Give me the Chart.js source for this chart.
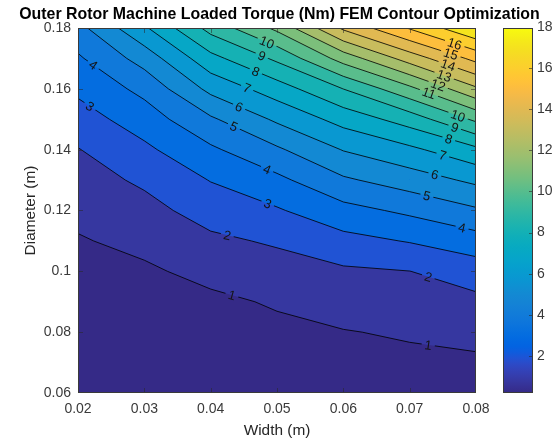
<!DOCTYPE html>
<html><head><meta charset="utf-8">
<script src="https://cdn.jsdelivr.net/npm/chart.js@4.4.0/dist/chart.umd.min.js"></script>
<style>html,body{margin:0;padding:0;background:#fff;}</style>
</head><body>
<canvas id="c" width="559" height="443"></canvas>
<script>
// ---- data ----
const widths = [0.02, 0.03, 0.04, 0.05, 0.06, 0.07, 0.08];
const diameters = [0.06, 0.07, 0.08, 0.09, 0.10, 0.11, 0.12, 0.13, 0.14, 0.15, 0.16, 0.17, 0.18];
// torque (Nm) along diameter, one array per width
const torqueW002 = [0.19, 0.27, 0.38, 0.52, 0.70, 0.92, 1.25, 1.60, 1.96, 2.56, 3.20, 3.86, 4.69];
const torqueW003 = [0.26, 0.36, 0.48, 0.64, 0.85, 1.26, 1.69, 2.16, 2.80, 3.49, 4.28, 5.41, 6.85];
const torqueW004 = [0.33, 0.46, 0.62, 0.80, 1.28, 1.81, 2.40, 3.04, 3.83, 4.85, 6.27, 7.68, 9.35];
const torqueW005 = [0.45, 0.58, 0.78, 1.10, 1.59, 2.12, 2.90, 3.76, 4.85, 6.17, 7.52, 9.20, 11.23];
const torqueW006 = [0.58, 0.76, 0.96, 1.39, 1.85, 2.69, 3.67, 4.85, 6.05, 7.37, 9.01, 11.42, 14.18];
const torqueW007 = [0.60, 0.80, 1.10, 1.55, 1.99, 3.06, 4.20, 5.49, 6.78, 8.45, 10.75, 13.45, 16.09];
const torqueW008 = [0.62, 0.85, 1.27, 1.77, 2.47, 3.57, 4.86, 6.21, 7.77, 10.20, 12.84, 15.30, 17.96];
const contourLevels = [1,2,3,4,5,6,7,8,9,10,11,12,13,14,15,16,17];
const xTickValues = [0.02, 0.03, 0.04, 0.05, 0.06, 0.07, 0.08];
const xTickLabels = ['0.02','0.03','0.04','0.05','0.06','0.07','0.08'];
const yTickValues = [0.06, 0.08, 0.10, 0.12, 0.14, 0.16, 0.18];
const yTickLabels = ['0.06','0.08','0.1','0.12','0.14','0.16','0.18'];
const cbTickValues = [2, 4, 6, 8, 10, 12, 14, 16, 18];
const cbTickLabels = ['2','4','6','8','10','12','14','16','18'];
// inline contour labels: level and width where it sits
const labelLevels = [4, 3, 10, 9, 8, 7, 6, 5, 4, 3, 2, 1, 16, 15, 14, 13, 12, 11, 10, 9, 8, 7, 6, 5, 4, 2, 1];
const labelWidths = [0.0223, 0.0218, 0.0485, 0.0477, 0.0468, 0.0455, 0.0443, 0.0435, 0.0485, 0.0486, 0.0425, 0.0432,
                     0.0768, 0.0762, 0.0758, 0.0752, 0.0743, 0.0729, 0.0773, 0.0768, 0.0759, 0.0750, 0.0738, 0.0726, 0.0779, 0.0728, 0.0728];

const torque = [torqueW002, torqueW003, torqueW004, torqueW005, torqueW006, torqueW007, torqueW008];

// parula colormap (64)
const parula = [
[0.2081,0.1663,0.5292],[0.2116,0.1898,0.5777],[0.2123,0.2138,0.6270],[0.2081,0.2386,0.6771],[0.1959,0.2645,0.7279],[0.1707,0.2919,0.7792],[0.1253,0.3242,0.8303],[0.0591,0.3598,0.8683],
[0.0117,0.3875,0.8820],[0.0060,0.4086,0.8828],[0.0165,0.4266,0.8786],[0.0329,0.4430,0.8720],[0.0498,0.4586,0.8641],[0.0629,0.4737,0.8554],[0.0723,0.4887,0.8467],[0.0779,0.5040,0.8384],
[0.0793,0.5200,0.8312],[0.0749,0.5375,0.8263],[0.0641,0.5570,0.8240],[0.0488,0.5772,0.8228],[0.0343,0.5966,0.8199],[0.0265,0.6137,0.8135],[0.0239,0.6287,0.8038],[0.0231,0.6418,0.7913],
[0.0228,0.6535,0.7768],[0.0267,0.6642,0.7607],[0.0384,0.6743,0.7436],[0.0590,0.6838,0.7254],[0.0843,0.6928,0.7062],[0.1133,0.7015,0.6859],[0.1453,0.7098,0.6646],[0.1801,0.7177,0.6424],
[0.2178,0.7250,0.6193],[0.2586,0.7317,0.5954],[0.3022,0.7376,0.5712],[0.3482,0.7424,0.5473],[0.3953,0.7459,0.5244],[0.4420,0.7481,0.5033],[0.4871,0.7491,0.4840],[0.5300,0.7491,0.4661],
[0.5709,0.7485,0.4494],[0.6099,0.7473,0.4337],[0.6473,0.7456,0.4188],[0.6834,0.7435,0.4044],[0.7184,0.7411,0.3905],[0.7525,0.7384,0.3768],[0.7858,0.7356,0.3633],[0.8185,0.7327,0.3498],
[0.8507,0.7299,0.3360],[0.8824,0.7274,0.3217],[0.9139,0.7258,0.3063],[0.9450,0.7261,0.2886],[0.9739,0.7314,0.2666],[0.9938,0.7455,0.2403],[0.9990,0.7653,0.2164],[0.9955,0.7861,0.1967],
[0.9880,0.8066,0.1794],[0.9789,0.8271,0.1633],[0.9697,0.8481,0.1475],[0.9626,0.8705,0.1309],[0.9589,0.8949,0.1132],[0.9598,0.9218,0.0948],[0.9661,0.9514,0.0755],[0.9763,0.9831,0.0538]];

const allZ = torque.flat();
const zMin = Math.min(...allZ), zMax = Math.max(...allZ);
function rgbOf(c){ return 'rgb(' + Math.round(c[0]*255) + ',' + Math.round(c[1]*255) + ',' + Math.round(c[2]*255) + ')'; }
function cmap(v){
  let i = Math.floor((v - zMin) / (zMax - zMin) * 64);
  i = Math.max(0, Math.min(63, i));
  return rgbOf(parula[i]);
}

const FONT = "'Liberation Sans', Arial, Helvetica, sans-serif";

function cellCorners(i, j){
  return [
    {x: widths[i],   y: diameters[j],   z: torque[i][j]},
    {x: widths[i+1], y: diameters[j],   z: torque[i+1][j]},
    {x: widths[i+1], y: diameters[j+1], z: torque[i+1][j+1]},
    {x: widths[i],   y: diameters[j+1], z: torque[i][j+1]}
  ];
}
function clipAbove(pts, L){
  const out = [];
  for (let k = 0; k < pts.length; k++){
    const p = pts[k], q = pts[(k+1) % pts.length];
    const pin = p.z >= L, qin = q.z >= L;
    if (pin) out.push(p);
    if (pin !== qin){
      const t = (L - p.z) / (q.z - p.z);
      out.push({x: p.x + t*(q.x-p.x), y: p.y + t*(q.y-p.y), z: L});
    }
  }
  return out;
}
function levelSegments(L){
  const segs = [];
  for (let i = 0; i < widths.length-1; i++){
    for (let j = 0; j < diameters.length-1; j++){
      const c = cellCorners(i, j);
      const pts = [];
      for (let k = 0; k < 4; k++){
        const p = c[k], q = c[(k+1)%4];
        if ((p.z - L) * (q.z - L) < 0){
          const t = (L - p.z) / (q.z - p.z);
          pts.push({x: p.x + t*(q.x-p.x), y: p.y + t*(q.y-p.y)});
        }
      }
      if (pts.length === 2) segs.push([pts[0], pts[1]]);
      else if (pts.length === 4){ segs.push([pts[0], pts[1]]); segs.push([pts[2], pts[3]]); }
    }
  }
  return segs;
}

const contourPlugin = {
  id: 'contourf',
  beforeDatasetsDraw(chart){
    const {ctx, chartArea: a, scales} = chart;
    const sx = scales.x, sy = scales.y, cb = scales.cb;
    const P = p => ({x: sx.getPixelForValue(p.x), y: sy.getPixelForValue(p.y)});
    ctx.save();
    ctx.beginPath();
    ctx.rect(a.left, a.top, a.right - a.left, a.bottom - a.top);
    ctx.clip();
    ctx.fillStyle = cmap(zMin);
    ctx.fillRect(a.left, a.top, a.right - a.left, a.bottom - a.top);
    contourLevels.forEach(L => {
      const path = new Path2D();
      let any = false;
      for (let i = 0; i < widths.length-1; i++){
        for (let j = 0; j < diameters.length-1; j++){
          const poly = clipAbove(cellCorners(i, j), L);
          if (poly.length >= 3){
            any = true;
            poly.forEach((p, k) => { const q = P(p); if (k === 0) path.moveTo(q.x, q.y); else path.lineTo(q.x, q.y); });
            path.closePath();
          }
        }
      }
      if (any){ ctx.fillStyle = cmap(L); ctx.fill(path); }
    });
    ctx.font = '13px ' + FONT;
    const segsByLevel = {};
    contourLevels.forEach(L => {
      segsByLevel[L] = levelSegments(L).map(s => [P(s[0]), P(s[1])]);
    });
    const labels = [];
    labelLevels.forEach((L, k) => {
      const X = sx.getPixelForValue(labelWidths[k]);
      const segs = segsByLevel[L] || [];
      for (const s of segs){
        let [p, q] = s;
        if (p.x > q.x){ const t = p; p = q; q = t; }
        if (X >= p.x && X <= q.x && q.x > p.x){
          const t = (X - p.x) / (q.x - p.x);
          labels.push({L, x: X, y: p.y + t*(q.y - p.y), ang: Math.atan2(q.y - p.y, q.x - p.x), w: ctx.measureText(String(L)).width});
          break;
        }
      }
    });
    contourLevels.forEach(L => {
      ctx.save();
      ctx.beginPath();
      ctx.rect(a.left, a.top, a.right - a.left, a.bottom - a.top);
      labels.filter(l => l.L === L).forEach(l => {
        const hw = l.w/2 + 3, hh = 7;
        const c = Math.cos(l.ang), s = Math.sin(l.ang);
        const corners = [[-hw,-hh],[hw,-hh],[hw,hh],[-hw,hh]].map(([u,v]) => [l.x + u*c - v*s, l.y + u*s + v*c]);
        ctx.moveTo(corners[0][0], corners[0][1]);
        for (let k = 1; k < 4; k++) ctx.lineTo(corners[k][0], corners[k][1]);
        ctx.closePath();
      });
      ctx.clip('evenodd');
      ctx.beginPath();
      segsByLevel[L].forEach(s => { ctx.moveTo(s[0].x, s[0].y); ctx.lineTo(s[1].x, s[1].y); });
      ctx.strokeStyle = 'rgba(0,0,0,0.9)';
      ctx.lineWidth = 0.9;
      ctx.stroke();
      ctx.restore();
    });
    ctx.fillStyle = '#151515';
    ctx.textAlign = 'center';
    ctx.textBaseline = 'middle';
    labels.forEach(l => {
      ctx.save();
      ctx.translate(l.x, l.y);
      ctx.rotate(l.ang);
      ctx.fillText(String(l.L), 0, 1);
      ctx.restore();
    });
    ctx.restore();

    // axes box and inward ticks (inner ticks only, the box covers the ends)
    ctx.save();
    ctx.strokeStyle = '#3a3a3a';
    ctx.lineWidth = 1;
    ctx.strokeRect(Math.round(a.left) + 0.5, Math.round(a.top) + 0.5, Math.round(a.right - a.left) - 1, Math.round(a.bottom - a.top) - 1);
    ctx.strokeStyle = 'rgba(40,40,40,0.55)';
    ctx.beginPath();
    xTickValues.slice(1, -1).forEach(v => {
      const X = Math.round(sx.getPixelForValue(v)) + 0.5;
      ctx.moveTo(X, a.bottom - 1); ctx.lineTo(X, a.bottom - 5);
      ctx.moveTo(X, a.top + 1); ctx.lineTo(X, a.top + 5);
    });
    yTickValues.slice(1, -1).forEach(v => {
      const Y = Math.round(sy.getPixelForValue(v)) + 0.5;
      ctx.moveTo(a.left + 1, Y); ctx.lineTo(a.left + 5, Y);
      ctx.moveTo(a.right - 1, Y); ctx.lineTo(a.right - 5, Y);
    });
    ctx.stroke();
    ctx.restore();

    // colorbar (smooth parula) with its tick labels, placed through the cb scale
    ctx.save();
    const bx = Math.round(cb.left + 27), bw = 30;
    const ct = Math.round(cb.getPixelForValue(zMax)), cbot = Math.round(cb.getPixelForValue(zMin));
    const g = ctx.createLinearGradient(0, cbot, 0, ct);
    parula.forEach((c, i) => g.addColorStop(i / 63, rgbOf(c)));
    ctx.fillStyle = g;
    ctx.fillRect(bx, ct, bw, cbot - ct);
    ctx.strokeStyle = '#3a3a3a';
    ctx.lineWidth = 1;
    ctx.strokeRect(bx + 0.5, ct + 0.5, bw - 1, cbot - ct - 1);
    ctx.strokeStyle = 'rgba(40,40,40,0.6)';
    ctx.beginPath();
    cbTickValues.forEach(v => {
      const Y = Math.round(cb.getPixelForValue(v)) + 0.5;
      if (Y > ct + 1 && Y < cbot - 1){ ctx.moveTo(bx + bw - 1, Y); ctx.lineTo(bx + bw - 4, Y); }
    });
    ctx.stroke();
    ctx.fillStyle = '#3a3a3a';
    ctx.font = '14px ' + FONT;
    ctx.textAlign = 'left';
    ctx.textBaseline = 'middle';
    cbTickValues.forEach((v, i) => ctx.fillText(cbTickLabels[i], bx + bw + 4, cb.getPixelForValue(v)));
    ctx.restore();
  }
};

const nodePoints = [];
widths.forEach((w, i) => diameters.forEach((d, j) => nodePoints.push({x: w, y: d, v: torque[i][j]})));

new Chart(document.getElementById('c'), {
  type: 'scatter',
  data: { datasets: [{ label: 'Torque (Nm)', data: nodePoints, pointRadius: 0, pointHoverRadius: 0, showLine: false }] },
  options: {
    responsive: false,
    animation: false,
    devicePixelRatio: 1,
    layout: { padding: 0 },
    plugins: {
      legend: { display: false },
      tooltip: { enabled: false },
      title: {
        display: true,
        text: 'Outer Rotor Machine Loaded Torque (Nm) FEM Contour Optimization',
        font: { family: FONT, size: 15.9, weight: 'bold' },
        color: '#000',
        padding: { top: 5.5, bottom: 3.4 }
      }
    },
    scales: {
      x: {
        type: 'linear', min: 0.02, max: 0.08,
        afterBuildTicks: s => { s.ticks = xTickValues.map(v => ({value: v})); },
        afterFit: s => { s.height = 50; },
        ticks: { callback: (v, i) => xTickLabels[i], font: { family: FONT, size: 14 }, color: '#3a3a3a', padding: 7.5, maxRotation: 0, autoSkip: false },
        grid: { display: false, drawTicks: false },
        border: { display: false },
        title: { display: true, text: 'Width (m)', font: { family: FONT, size: 15.4 }, color: '#262626', padding: { top: 0, bottom: 3 } }
      },
      y: {
        type: 'linear', min: 0.06, max: 0.18,
        afterBuildTicks: s => { s.ticks = yTickValues.map(v => ({value: v})); },
        afterFit: s => { s.width = 78; },
        ticks: { callback: (v, i) => yTickLabels[i], font: { family: FONT, size: 14 }, color: '#3a3a3a', padding: 7, autoSkip: false },
        grid: { display: false, drawTicks: false },
        border: { display: false },
        title: { display: true, text: 'Diameter (m)', font: { family: FONT, size: 15.4 }, color: '#262626', padding: { top: 22, bottom: 0 } }
      },
      cb: {
        type: 'linear', axis: 'y', position: 'right', min: zMin, max: zMax,
        afterBuildTicks: s => { s.ticks = cbTickValues.map(v => ({value: v})); },
        afterFit: s => { s.width = 83; },
        ticks: { display: false },
        grid: { display: false, drawTicks: false },
        border: { display: false }
      }
    }
  },
  plugins: [contourPlugin]
});
</script>
</body></html>
